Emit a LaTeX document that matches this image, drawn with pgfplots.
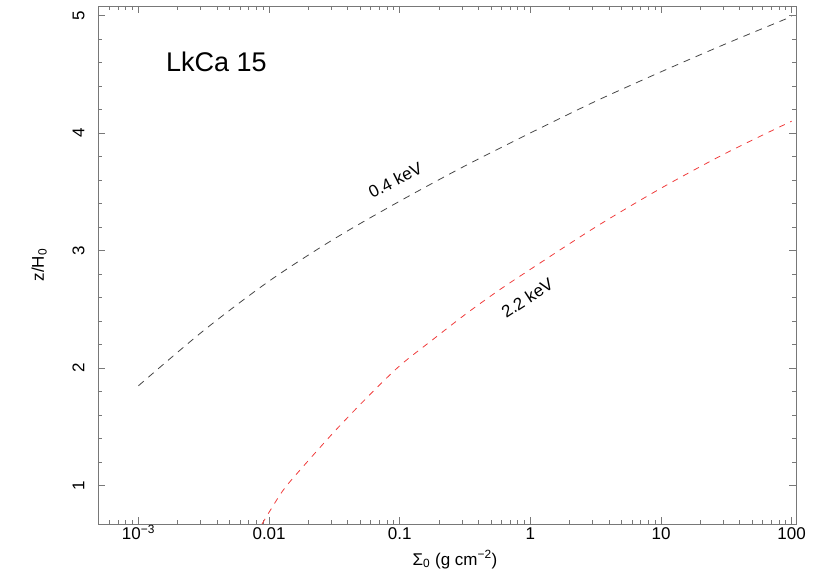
\documentclass[border=0pt]{standalone}
\usepackage{fontspec}
\setmainfont{Liberation Sans}
\usepackage{pgfplots}
\pgfplotsset{compat=1.18}

\definecolor{axgray}{RGB}{120,120,120}
\definecolor{lowe}{RGB}{70,70,70}
\definecolor{highe}{RGB}{240,60,60}

\begin{document}
\begin{tikzpicture}
% fixes the page to 821 x 572 pt (axis box 698 x 518 pt)
\useasboundingbox (-98pt,-48pt) rectangle (723pt,524pt);
\begin{axis}[
    at={(0,0)}, anchor=south west,
    scale only axis,
    width=698pt, height=518pt,
    xmode=log,
    xmin=4.9e-4, xmax=108,
    ymin=0.674, ymax=5.08,
    axis line style={axgray, line width=0.8pt},
    tick style={axgray, line width=0.8pt},
    tick align=inside,
    major tick length=7pt,
    minor tick length=4pt,
    xtick={1e-3,0.01,0.1,1,10,100},
    xticklabels={10\textsuperscript{−3},0.01,0.1,1,10,100},
    minor xtick={6e-4,7e-4,8e-4,9e-4,
                 2e-3,3e-3,4e-3,5e-3,6e-3,7e-3,8e-3,9e-3,
                 0.02,0.03,0.04,0.05,0.06,0.07,0.08,0.09,
                 0.2,0.3,0.4,0.5,0.6,0.7,0.8,0.9,
                 2,3,4,5,6,7,8,9,
                 20,30,40,50,60,70,80,90},
    ytick={1,2,3,4,5},
    yticklabels={1,2,3,4,5},
    minor y tick num=4,
    /pgf/number format/assume math mode=true,
    ticklabel style={font=\fontsize{17}{20}\selectfont},
    xticklabel style={text height=12.2pt, anchor=north},
    yticklabel style={rotate=90, anchor=south},
    yticklabel shift=10pt,
    label style={font=\fontsize{17}{20}\selectfont},
    xlabel={Σ\textsubscript{0} (g cm\textsuperscript{−2})},
    xlabel style={at={(axis description cs:0.5115,-0.0792)}, anchor=base},
    ylabel={z/H\textsubscript{0}},
    ylabel style={at={(axis description cs:-0.0774,0.5)}, rotate=0, anchor=base},
    clip=true,
]

% 0.4 keV
\addplot[lowe, line width=0.8pt, dash pattern=on 7pt off 6pt, smooth, tension=0.5]
    coordinates {
        (0.001,1.85)
        (0.00316,2.32)
        (0.01,2.74)
        (0.0316,3.10)
        (0.1,3.42)
        (0.316,3.72)
        (1.0,4.00)
        (3.16,4.27)
        (10,4.52)
        (31.6,4.76)
        (100,4.99)
    };

% 2.2 keV
\addplot[highe, line width=0.8pt, dash pattern=on 6pt off 6pt, smooth, tension=0.5]
    coordinates {
        (0.00883,0.674)
        (0.0126,0.95)
        (0.0178,1.15)
        (0.0316,1.46)
        (0.0562,1.75)
        (0.1,2.02)
        (0.178,2.24)
        (0.316,2.455)
        (0.562,2.655)
        (1.0,2.84)
        (3.16,3.20)
        (10,3.53)
        (31.6,3.83)
        (100,4.10)
    };

\node[font=\fontsize{27}{30}\selectfont, anchor=base west]
    at (axis description cs:0.0927,0.873) {LkCa 15};
\node[font=\fontsize{17}{20}\selectfont, rotate=27]
    at (axis cs:0.0925,3.60) {0.4 keV};
\node[font=\fontsize{17}{20}\selectfont, rotate=33]
    at (axis cs:0.946,2.595) {2.2 keV};

\end{axis}
\end{tikzpicture}
\end{document}
